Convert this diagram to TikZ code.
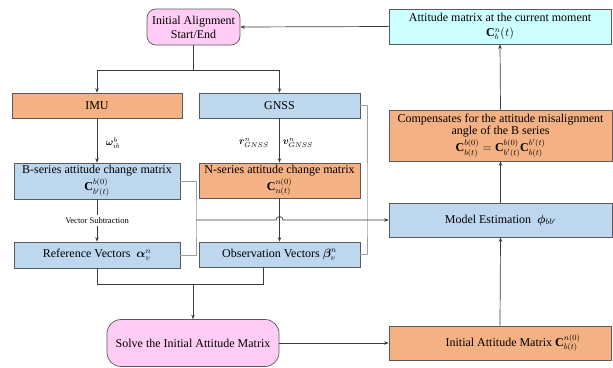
\documentclass[tikz,border=0pt]{standalone}
\usepackage{fontspec}
\setmainfont{Liberation Serif}
\usepackage{amsmath}
\usepackage{bm}
\usetikzlibrary{arrows.meta}
\definecolor{orng}{HTML}{F4B183}
\definecolor{blu}{HTML}{BDD7EE}
\definecolor{cyn}{HTML}{CCFFFF}
\definecolor{pnk}{HTML}{FFCCF5}
\definecolor{edge}{HTML}{5A5A5A}
\definecolor{ln}{HTML}{3A3A3A}
\definecolor{lgr}{HTML}{A0A0A0}
\tikzset{
  box/.style={draw=edge, line width=0.7pt, align=center, inner sep=1pt,
    font=\fontsize{12}{14}\selectfont},
  obox/.style={box, fill=orng},
  bbox/.style={box, fill=blu},
  cbox/.style={box, fill=cyn},
  pbox/.style={box, fill=pnk, rounded corners=9pt},
  arr/.style={draw=ln, line width=0.7pt, -{Stealth[length=4.5pt,width=3.5pt]}},
  ln/.style={draw=ln, line width=0.7pt},
  brk/.style={draw=lgr, line width=0.7pt},
  lab/.style={font=\fontsize{10}{11}\selectfont, inner sep=1pt},
}
\begin{document}
\begin{tikzpicture}[x=1pt,y=-1pt]
\useasboundingbox (0,0) rectangle (613,367);
% nodes
\node[pbox, minimum width=93pt, minimum height=36pt] (start) at (193.5,27) {Initial Alignment\\Start/End};
\node[cbox, minimum width=222pt, minimum height=35pt] (attnow) at (500,26.5) {Attitude matrix at the current moment\\[1pt]$\mathbf{C}_{b}^{n}(t)$};
\node[obox, minimum width=170pt, minimum height=25pt] (imu) at (97,105.5) {IMU};
\node[bbox, minimum width=161pt, minimum height=25pt] (gnss) at (279.5,105.5) {GNSS};
\node[obox, minimum width=223pt, minimum height=51pt] (comp) at (500.5,135.5) {Compensates for the attitude misalignment\\[-2pt]angle of the B series\\[1pt]$\mathbf{C}^{b(0)}_{b(t)}=\mathbf{C}^{b(0)}_{b'(t)}\mathbf{C}^{b'(t)}_{b(t)}$};
\node[bbox, minimum width=166pt, minimum height=36pt] (bser) at (97,181) {B-series attitude change matrix\\[1pt]$\mathbf{C}^{b(0)}_{b'(t)}$};
\node[obox, minimum width=161pt, minimum height=35pt] (nser) at (279.5,180.5) {N-series attitude change matrix\\[1pt]$\mathbf{C}^{n(0)}_{n(t)}$};
\node[bbox, minimum width=223pt, minimum height=34pt] (model) at (500.5,220) {Model Estimation\ \ $\bm{\phi}_{bb'}$};
\node[bbox, minimum width=166pt, minimum height=26pt] (refv) at (97,255) {Reference Vectors\ \ $\bm{\alpha}^{n}_{v}$};
\node[bbox, minimum width=161pt, minimum height=25pt] (obsv) at (279.5,254.5) {Observation Vectors $\bm{\beta}^{n}_{v}$};
\node[pbox, minimum width=172pt, minimum height=47pt, rounded corners=14pt] (solve) at (193,343) {Solve the Initial Attitude Matrix};
\node[obox, minimum width=222pt, minimum height=34pt] (init) at (500,343) {\hspace*{26pt}Initial Attitude Matrix $\mathbf{C}^{n(0)}_{b(t)}$};
% labels
\node[lab] (lw) at (113,143) {$\bm{\omega}^{b}_{ib}$};
\node[lab] (lr) at (254,143) {$\bm{r}^{n}_{GNSS}$};
\node[lab] (lv) at (298,143) {$\bm{v}^{n}_{GNSS}$};
% coordinates
\coordinate (split) at (193.5,70);
\coordinate (b1) at (196,220);
\coordinate (b2) at (367,220);
\coordinate (m) at (193,284);
% connectors
\draw[ln] (start.south) -- (split);
\draw[arr] (split) -| (imu.north);
\draw[arr] (split) -| (gnss.north);
\draw[arr] (attnow.west) -- (start.east);
\draw[arr] (imu.south) -- (bser.north);
\draw[arr] (gnss.south) -- (nser.north);
\draw[arr] (bser.south) -- node[lab, fill=white, font=\fontsize{8.5}{9}\selectfont, inner sep=2pt] (vs) {Vector Subtraction} (refv.north);
\draw[arr] (nser.south) -- (obsv.north);
\draw[brk] (bser.east) -| (b1) |- (refv.east);
\draw[brk] (gnss.east) -| (b2) |- (obsv.east);
\draw[arr] (b1) -- ([xshift=-3.5pt]b1 -| nser.south) arc[start angle=180, end angle=360, radius=3.5] -- (model.west);
\draw[ln] (refv.south) |- (m);
\draw[ln] ([xshift=-16pt]obsv.south) |- (m);
\draw[arr] (m) -- (solve.north);
\draw[arr] (solve.east) -- (init.west);
\draw[arr] (init.north) -- (model.south);
\draw[arr] (model.north) -- (comp.south);
\draw[arr] (comp.north) -- (attnow.south);
\end{tikzpicture}
\end{document}
